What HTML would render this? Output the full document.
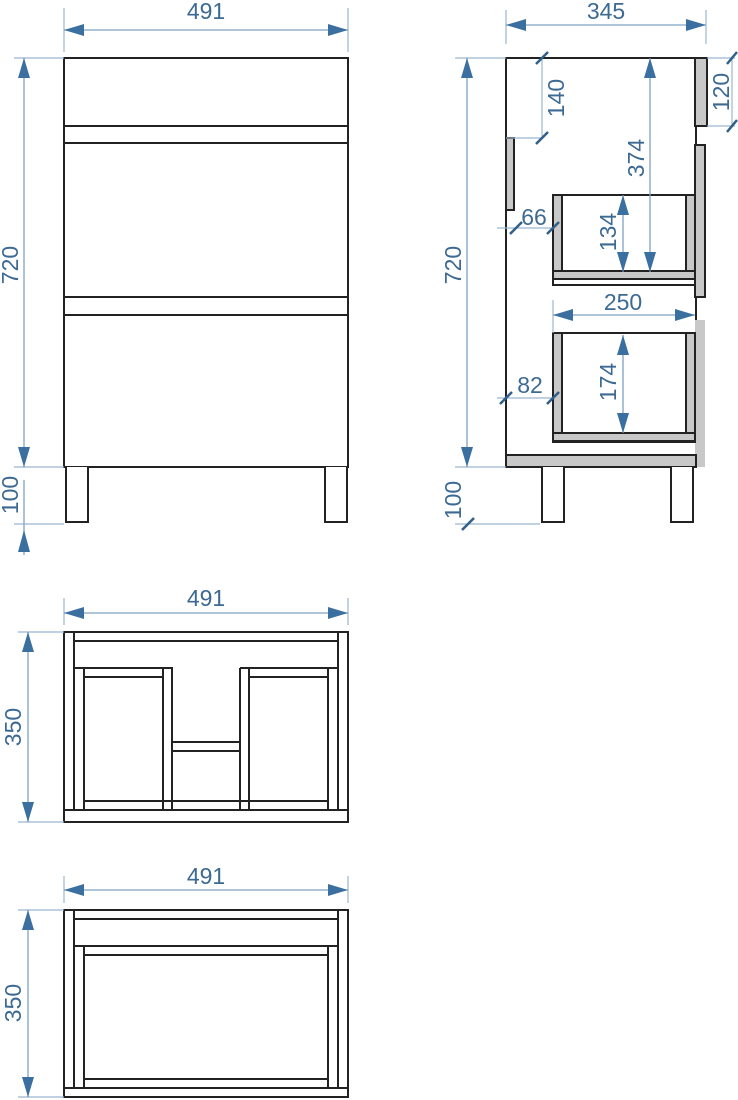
<!DOCTYPE html>
<html><head><meta charset="utf-8"><style>body{margin:0;background:#fff}svg{display:block}text{font-family:"Liberation Sans",sans-serif;fill:#3d6a93;font-size:23px}</style></head><body>
<svg width="738" height="1100" viewBox="0 0 738 1100" xmlns="http://www.w3.org/2000/svg">
<g fill="#fff" stroke="#222" stroke-width="2">
<rect x="64" y="58" width="284" height="409"/>
<rect x="64" y="126" width="284" height="17"/>
<rect x="64" y="297" width="284" height="18"/>
<path d="M66,467 v55 h22 v-55 M325,467 v55 h22 v-55"/>
<rect x="506" y="58" width="190" height="409"/>
<rect x="506" y="138" width="8" height="72" fill="#c8c8c8"/>
<rect x="695" y="58" width="12" height="68" fill="#c8c8c8"/>
<rect x="695" y="145" width="10" height="152" fill="#c8c8c8"/>
<rect x="695" y="320" width="10" height="147" fill="#c8c8c8" stroke="none"/>
<rect x="506" y="455" width="190" height="12" fill="#c8c8c8"/>
<rect x="553" y="195" width="142" height="90"/>
<rect x="553" y="195" width="9" height="76" fill="#c8c8c8"/>
<rect x="686" y="195" width="9" height="76" fill="#c8c8c8"/>
<rect x="553" y="271" width="142" height="8" fill="#c8c8c8"/>
<rect x="553" y="333" width="142" height="109"/>
<rect x="553" y="333" width="9" height="100" fill="#c8c8c8"/>
<rect x="686" y="333" width="9" height="100" fill="#c8c8c8"/>
<rect x="553" y="433" width="142" height="8" fill="#c8c8c8"/>
<path d="M542,467 v55 h22 v-55 M671,467 v55 h22 v-55"/>
</g>
<g fill="none" stroke="#222" stroke-width="2">
<!-- plan 1 -->
<rect x="64" y="632" width="284" height="190"/>
<path d="M74,632 V810 M338,632 V810 M64,810 H348 M74,641 H338 M74,668 H172 V810 M84,668 V810 M84,677 H163 M163,668 V810 M240,668 H338 M240,668 V810 M249,668 V810 M249,677 H328 M328,668 V810 M84,801 H328 M172,742 H240 M172,751 H240"/>
<!-- plan 2 -->
<rect x="64" y="910" width="284" height="187"/>
<path d="M74,910 V1088 M338,910 V1088 M64,1088 H348 M74,919 H338 M74,946 H338 M84,946 V1088 M328,946 V1088 M84,955 H328 M84,1079 H328"/>
</g>
<g stroke="#9bb6cf" stroke-width="1.2" fill="none">
<line x1="64" y1="8" x2="64" y2="52"/><line x1="348" y1="8" x2="348" y2="52"/>
<line x1="14" y1="58" x2="64" y2="58"/><line x1="14" y1="467" x2="64" y2="467"/><line x1="14" y1="524" x2="64" y2="524"/>
<line x1="506" y1="10" x2="506" y2="44"/><line x1="706" y1="10" x2="706" y2="44"/>
<line x1="455" y1="58" x2="506" y2="58"/><line x1="455" y1="467" x2="506" y2="467"/><line x1="455" y1="524" x2="540" y2="524"/>
<line x1="64" y1="598" x2="64" y2="625"/><line x1="348" y1="598" x2="348" y2="625"/>
<line x1="18" y1="632" x2="64" y2="632"/><line x1="18" y1="822" x2="64" y2="822"/>
<line x1="64" y1="876" x2="64" y2="903"/><line x1="348" y1="876" x2="348" y2="903"/>
<line x1="18" y1="910" x2="64" y2="910"/><line x1="18" y1="1097" x2="64" y2="1097"/>
<line x1="542" y1="58" x2="542" y2="138"/><line x1="506" y1="138" x2="542" y2="138"/>
<line x1="707" y1="58" x2="735" y2="58"/><line x1="707" y1="126" x2="735" y2="126"/><line x1="732" y1="58" x2="732" y2="126"/>
<line x1="497" y1="228" x2="553" y2="228"/><line x1="497" y1="398" x2="553" y2="398"/>
<line x1="553" y1="300" x2="553" y2="333"/>
</g>
<g stroke="#7fa2c2" stroke-width="1.3">
<line x1="64" y1="30" x2="348" y2="30"/>
<line x1="24" y1="58" x2="24" y2="467"/>
<line x1="506" y1="25" x2="706" y2="25"/>
<line x1="467" y1="58" x2="467" y2="467"/>
<line x1="64" y1="613" x2="348" y2="613"/>
<line x1="28" y1="632" x2="28" y2="822"/>
<line x1="64" y1="890" x2="348" y2="890"/>
<line x1="28" y1="910" x2="28" y2="1097"/>
<line x1="650" y1="58" x2="650" y2="272"/>
<line x1="623" y1="195" x2="623" y2="272"/>
<line x1="553" y1="315" x2="695" y2="315"/>
<line x1="623" y1="335" x2="623" y2="433"/>
<line x1="24" y1="480" x2="24" y2="555"/>
</g>
<g fill="#3b6fa0">
<path d="M64,30 l20,-6 v12z M348,30 l-20,-6 v12z"/>
<path d="M506,25 l20,-6 v12z M706,25 l-20,-6 v12z"/>
<path d="M64,613 l20,-6 v12z M348,613 l-20,-6 v12z"/>
<path d="M64,890 l20,-6 v12z M348,890 l-20,-6 v12z"/>
<path d="M553,315 l20,-6 v12z M695,315 l-20,-6 v12z"/>
<path d="M24,58 l-6,20 h12z M24,467 l-6,-20 h12z"/>
<path d="M467,58 l-6,20 h12z M467,467 l-6,-20 h12z"/>
<path d="M28,632 l-6,20 h12z M28,822 l-6,-20 h12z"/>
<path d="M28,910 l-6,20 h12z M28,1097 l-6,-20 h12z"/>
<path d="M650,58 l-6,20 h12z M650,272 l-6,-20 h12z"/>
<path d="M623,195 l-6,20 h12z M623,272 l-6,-20 h12z"/>
<path d="M623,335 l-6,20 h12z M623,433 l-6,-20 h12z"/>
<path d="M24,530 l-6,22 h12z"/>
</g>
<g stroke="#2f5f8a" stroke-width="2.5">
<line x1="536" y1="64" x2="548" y2="52"/><line x1="536" y1="144" x2="548" y2="132"/>
<line x1="727" y1="64" x2="737" y2="52"/><line x1="727" y1="132" x2="737" y2="120"/>
<line x1="510" y1="234" x2="522" y2="222"/><line x1="547" y1="234" x2="559" y2="222"/>
<line x1="500" y1="404" x2="512" y2="392"/><line x1="547" y1="404" x2="559" y2="392"/>
<line x1="462" y1="530" x2="474" y2="518"/>
</g>
<text x="206" y="19" text-anchor="middle">491</text>
<text x="606" y="19" text-anchor="middle">345</text>
<text x="206" y="606" text-anchor="middle">491</text>
<text x="206" y="884" text-anchor="middle">491</text>
<text x="623" y="310" text-anchor="middle">250</text>
<text x="534" y="225" text-anchor="middle">66</text>
<text x="530" y="393" text-anchor="middle">82</text>
<g>
<text transform="translate(18,265) rotate(-90)" text-anchor="middle">720</text>
<text transform="translate(18,495) rotate(-90)" text-anchor="middle">100</text>
<text transform="translate(461,265) rotate(-90)" text-anchor="middle">720</text>
<text transform="translate(461,500) rotate(-90)" text-anchor="middle">100</text>
<text transform="translate(564,98) rotate(-90)" text-anchor="middle">140</text>
<text transform="translate(729,92) rotate(-90)" text-anchor="middle">120</text>
<text transform="translate(644,158) rotate(-90)" text-anchor="middle">374</text>
<text transform="translate(616,232) rotate(-90)" text-anchor="middle">134</text>
<text transform="translate(616,382) rotate(-90)" text-anchor="middle">174</text>
<text transform="translate(21,727) rotate(-90)" text-anchor="middle">350</text>
<text transform="translate(21,1003) rotate(-90)" text-anchor="middle">350</text>
</g>
</svg>
</body></html>
